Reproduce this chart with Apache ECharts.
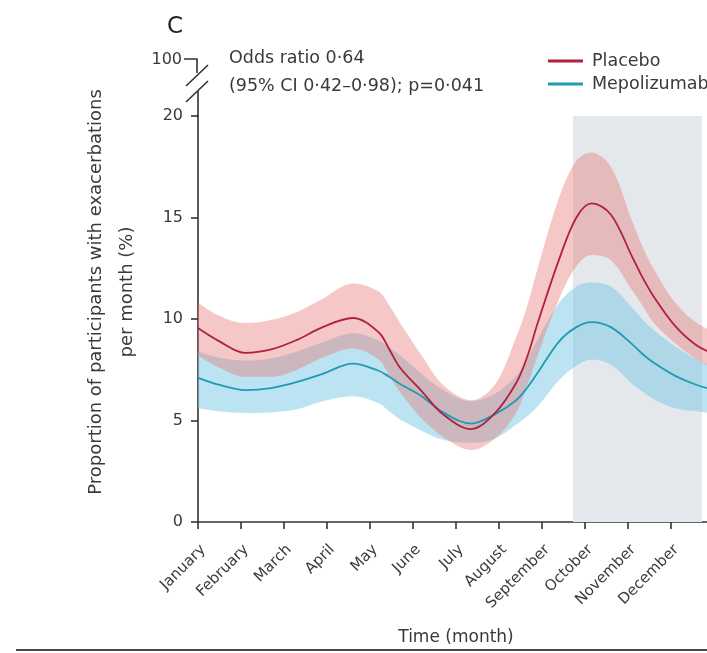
<!DOCTYPE html>
<html>
<head>
<meta charset="utf-8">
<script src="https://cdn.jsdelivr.net/npm/echarts@6/dist/echarts.min.js"></script>
<style>
  html, body { margin: 0; padding: 0; background: #ffffff; }
  #chart { width: 707px; height: 653px; }
</style>
</head>
<body>
<div id="chart"></div>
<script>
// ---- data ----
const months = ['January','February','March','April','May','June','July','August','September','October','November','December'];
const yTicks = [0, 5, 10, 15, 20];
// knot positions in months after the start of January
const monthPos = [0,0.5,1.1,1.7,2.3,2.9,3.6,4.2,4.45,4.7,5.2,5.7,6.35,6.9,7.4,7.65,7.9,8.4,8.8,9.15,9.6,10.1,10.35,10.6,11.1,11.6,12.1];

const placeboMean  = [9.56,8.9,8.33,8.5,8.97,9.6,10.05,9.35,8.5,7.6,6.45,5.3,4.58,5.35,6.85,8.1,9.8,12.95,15.0,15.7,15.15,13.05,12.0,11.1,9.65,8.7,8.2];
const placeboUpper = [10.8,10.15,9.8,9.95,10.35,11.0,11.75,11.35,10.65,9.8,8.2,6.75,6.0,6.75,9.1,10.6,12.5,16.0,17.8,18.2,17.5,14.8,13.5,12.45,10.8,9.8,9.3];
const placeboLower = [8.2,7.6,7.15,7.15,7.5,8.1,8.55,8.0,7.2,6.4,5.1,4.2,3.55,4.1,5.4,6.7,8.2,11.0,12.6,13.15,12.9,11.4,10.6,9.8,8.8,8.0,7.5];

const mepoMean  = [7.1,6.75,6.5,6.6,6.9,7.3,7.8,7.45,7.15,6.8,6.2,5.4,4.85,5.3,6.0,6.6,7.35,8.9,9.6,9.85,9.6,8.75,8.25,7.85,7.2,6.75,6.45];
const mepoUpper = [8.4,8.1,7.95,8.05,8.4,8.85,9.3,8.95,8.6,8.2,7.3,6.5,5.95,6.3,7.2,8.0,9.0,10.8,11.6,11.8,11.6,10.55,9.95,9.45,8.65,8.0,7.6];
const mepoLower = [5.6,5.45,5.37,5.4,5.55,5.95,6.2,5.85,5.45,5.05,4.5,4.05,3.9,4.1,4.8,5.2,5.7,7.0,7.7,8.0,7.75,6.8,6.4,6.05,5.6,5.45,5.3];

const seasonWindow = [8.72, 11.72];   // shaded period (months from January)
const breakTopLabel = ['100'];

// ---- build ----
// value first, month second, so stacking acts on the value dimension
const vx = (ys) => monthPos.map((x, i) => [ys[i], x]);
const dx = (hi, lo) => monthPos.map((x, i) => [+(hi[i] - lo[i]).toFixed(3), x]);
const xy = (ys) => monthPos.map((x, i) => [x, ys[i]]);

const FONT = 'DejaVu Sans';
const TXT = '#3a3a3a';
const AX = '#333333';
const SMOOTH = 0.35;

const chart = echarts.init(document.getElementById('chart'), null, { renderer: 'canvas' });

const bandBase = { type: 'line', smooth: SMOOTH, symbol: 'none', silent: true, encode: { x: 1, y: 0 }, lineStyle: { opacity: 0 } };

const option = {
  backgroundColor: '#ffffff',
  animation: false,
  textStyle: { fontFamily: FONT, color: TXT },
  title: {
    text: 'C', left: 162, top: 11,
    textStyle: { fontFamily: FONT, fontSize: 23, fontWeight: 'normal', color: '#222' }
  },
  legend: {
    orient: 'vertical', left: 548, top: 52, padding: 0,
    itemWidth: 35, itemHeight: 3, itemGap: 5,
    icon: 'rect',
    textStyle: { fontFamily: FONT, fontSize: 17.5, color: TXT, padding: [0, 0, 0, 4] },
    data: ['Placebo', 'Mepolizumab']
  },
  grid: { left: 198, top: 116, right: -7, bottom: 131, containLabel: false, outerBoundsMode: 'none' },
  xAxis: {
    type: 'value', min: 0, max: 12, interval: 1,
    name: 'Time (month)', nameLocation: 'middle', nameGap: 107,
    nameTextStyle: { fontFamily: FONT, fontSize: 17, color: TXT },
    axisLine: { show: true, lineStyle: { color: AX, width: 1.6 } },
    axisTick: { show: true, length: 7, inside: false, lineStyle: { color: AX, width: 1.6 } },
    splitLine: { show: false },
    axisLabel: {
      rotate: 45, margin: 20, verticalAlign: 'top', fontFamily: FONT, fontSize: 15, color: TXT,
      formatter: (v) => (Number.isInteger(v) && months[v]) ? months[v] : ''
    }
  },
  yAxis: {
    type: 'value', min: 0, max: 20, interval: 5,
    axisLine: { show: true, lineStyle: { color: AX, width: 1.6 } },
    axisTick: { show: true, length: 7, lineStyle: { color: AX, width: 1.6 } },
    splitLine: { show: false },
    axisLabel: {
      margin: 15, fontFamily: FONT, fontSize: 16, color: TXT,
      formatter: (v) => yTicks.indexOf(v) >= 0 ? String(v) : ''
    }
  },
  graphic: [
    { type: 'text', left: 229, top: 49,
      style: { text: 'Odds ratio 0·64', font: '17.5px "DejaVu Sans"', fill: TXT } },
    { type: 'text', left: 229, top: 77,
      style: { text: '(95% CI 0·42–0·98); p=0·041', font: '17.5px "DejaVu Sans"', fill: TXT } },
    { type: 'text', x: 112, y: 292, rotation: Math.PI / 2,
      style: { text: 'Proportion of participants with exacerbations\nper month (%)',
               font: '18px "DejaVu Sans"', fill: TXT, align: 'center', verticalAlign: 'middle', lineHeight: 31 } },
    // axis break decoration
    { type: 'text', x: 182, y: 60,
      style: { text: breakTopLabel[0], font: '16px "DejaVu Sans"', fill: TXT, align: 'right', verticalAlign: 'middle' } },
    { type: 'polyline', shape: { points: [[184, 59], [197, 59], [197, 73]] }, style: { stroke: AX, lineWidth: 1.6, fill: null } },
    { type: 'line', shape: { x1: 186, y1: 86, x2: 208, y2: 65 }, style: { stroke: AX, lineWidth: 1.6 } },
    { type: 'line', shape: { x1: 186, y1: 102, x2: 208, y2: 81 }, style: { stroke: AX, lineWidth: 1.6 } },
    { type: 'line', shape: { x1: 198, y1: 91, x2: 198, y2: 117 }, style: { stroke: AX, lineWidth: 1.6 } },
    // page rule at the bottom
    { type: 'line', shape: { x1: 16, y1: 650, x2: 707, y2: 650 }, style: { stroke: '#3e4a4b', lineWidth: 2 } }
  ],
  series: [
    Object.assign({}, bandBase, {
      name: 'mepoLower', stack: 'mepo', data: vx(mepoLower), z: 2,
      markArea: {
        silent: true,
        itemStyle: { color: '#e4e8ec' },
        data: [[{ xAxis: seasonWindow[0], yAxis: 0 }, { xAxis: seasonWindow[1], yAxis: 20 }]]
      }
    }),
    Object.assign({}, bandBase, {
      name: 'mepoBand', stack: 'mepo', data: dx(mepoUpper, mepoLower), z: 3,
      areaStyle: { color: 'rgba(120,200,228,0.5)', opacity: 1 }
    }),
    Object.assign({}, bandBase, {
      name: 'placeboLower', stack: 'pla', data: vx(placeboLower), z: 4
    }),
    Object.assign({}, bandBase, {
      name: 'placeboBand', stack: 'pla', data: dx(placeboUpper, placeboLower), z: 5,
      areaStyle: { color: 'rgba(232,122,120,0.42)', opacity: 1 }
    }),
    {
      name: 'Mepolizumab', type: 'line', smooth: SMOOTH, symbol: 'none',
      lineStyle: { color: '#1f9bb3', width: 1.8 }, itemStyle: { color: '#1f9bb3' },
      data: xy(mepoMean), z: 6
    },
    {
      name: 'Placebo', type: 'line', smooth: SMOOTH, symbol: 'none',
      lineStyle: { color: '#b0203f', width: 1.8 }, itemStyle: { color: '#b0203f' },
      data: xy(placeboMean), z: 7
    }
  ]
};

chart.setOption(option);
</script>
</body>
</html>
